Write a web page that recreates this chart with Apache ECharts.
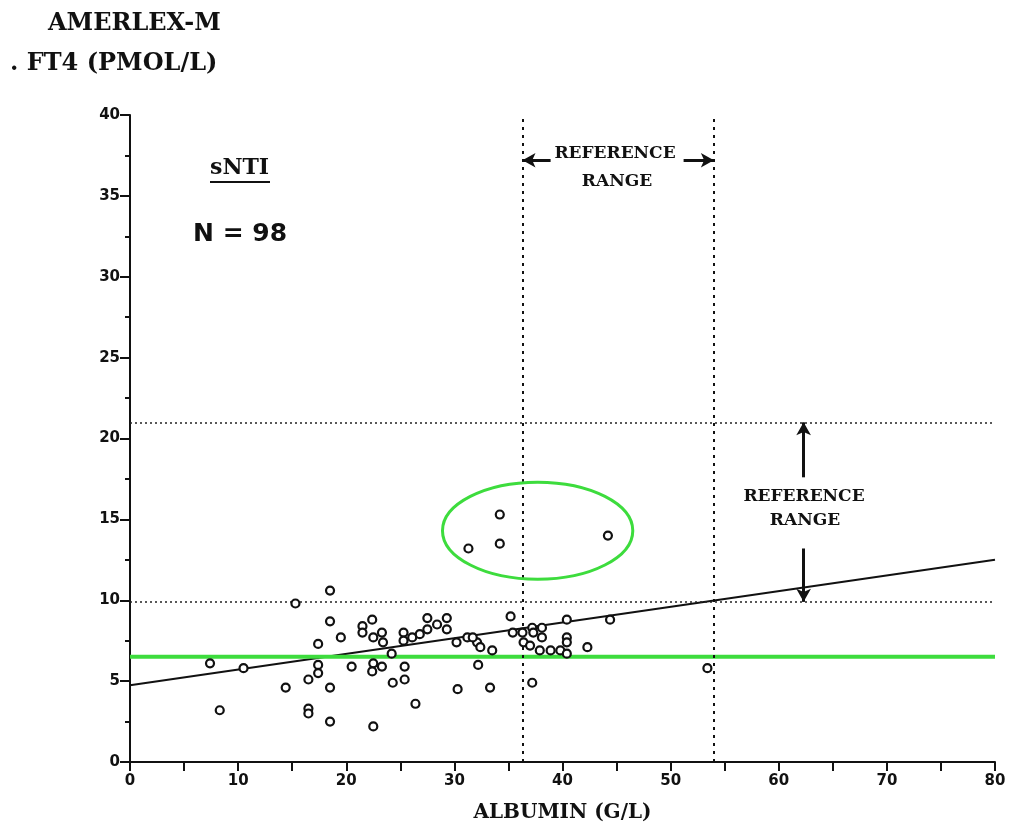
<!DOCTYPE html>
<html>
<head>
<meta charset="utf-8">
<script src="https://cdn.jsdelivr.net/npm/echarts@6/dist/echarts.min.js"></script>
<style>
html,body{margin:0;padding:0;background:#fff;}
#chart{width:1011px;height:838px;}
</style>
</head>
<body>
<div id="chart"></div>
<script>
// ---- data ----
const albumin = [7.4,8.3,10.5,14.4,15.3,16.5,16.5,16.5,17.4,17.4,17.4,18.5,18.5,18.5,18.5,19.5,20.5,21.5,21.5,22.4,
  22.5,22.5,22.4,22.5,23.3,23.4,23.3,24.2,24.3,25.3,25.3,25.4,25.4,26.1,26.4,26.8,27.5,27.5,28.4,29.3,
  29.3,30.2,30.3,31.2,32.1,32.4,32.2,33.5,33.3,35.2,31.7,35.4,36.3,36.4,37.2,37.3,38.1,38.1,37.0,37.9,
  38.9,39.8,40.4,40.4,40.4,40.4,42.3,44.4,37.2,53.4,34.2,31.3,34.2,44.2];
const ft4 = [6.1,3.2,5.8,4.6,9.8,5.1,3.3,3.0,7.3,6.0,5.5,10.6,8.7,4.6,2.5,7.7,5.9,8.4,8.0,8.8,
  7.7,6.1,5.6,2.2,8.0,7.4,5.9,6.7,4.9,8.0,7.5,5.9,5.1,7.7,3.6,7.9,8.9,8.2,8.5,8.9,
  8.2,7.4,4.5,7.7,7.4,7.1,6.0,6.9,4.6,9.0,7.7,8.0,8.0,7.4,8.3,8.0,8.3,7.7,7.2,6.9,
  6.9,6.9,8.8,7.7,7.4,6.7,7.1,8.8,4.9,5.8,15.3,13.2,13.5,14.0];
const xTicks = [0,10,20,30,40,50,60,70,80];
const yTicks = [0,5,10,15,20,25,30,35,40];
const refAlbumin = [36.3, 54.0];      // vertical reference range bounds
const refFt4 = [9.9, 21.0];           // horizontal reference range bounds
const regX = [0, 80];
const regY = [4.75, 12.5];            // regression line
const greenLineY = 6.5;               // green horizontal line
const highlight = [37.7, 14.3, 8.8, 3.0]; // ellipse: cx, cy, rx, ry (data units)
const arrowYTop = 37.2;
const arrowXRight = 62.3;

const serif = '"DejaVu Serif", "Liberation Serif", serif';
const sans = '"DejaVu Sans", "Liberation Sans", sans-serif';

const chart = echarts.init(document.getElementById('chart'), null, {renderer:'canvas'});

const points = albumin.map((a,i)=>[a, ft4[i]]);
const dashStyle = {color:'#111', width:2, type:[3,5]};
const dotStyle = {color:'#222', width:1.6, type:[2,3]};

const option = {
  backgroundColor:'#fff',
  animation:false,
  grid:{left:130, right:16, top:115, bottom:76},
  xAxis:{
    type:'value', min:xTicks[0], max:xTicks[xTicks.length-1], interval:10,
    name:'ALBUMIN (G/L)', nameLocation:'middle', nameGap:41,
    nameTextStyle:{fontFamily:serif, fontWeight:'bold', fontSize:20, color:'#111'},
    axisLine:{show:true, lineStyle:{color:'#111', width:2}},
    axisTick:{show:true, length:9, lineStyle:{color:'#111', width:2}},
    minorTick:{show:true, splitNumber:2, length:9, lineStyle:{color:'#111', width:2}},
    axisLabel:{margin:12, fontFamily:sans, fontWeight:'bold', fontSize:15, color:'#111'},
    splitLine:{show:false}
  },
  yAxis:{
    type:'value', min:yTicks[0], max:yTicks[yTicks.length-1], interval:5,
    axisLine:{show:true, lineStyle:{color:'#111', width:2}},
    axisTick:{show:true, length:10, lineStyle:{color:'#111', width:2}},
    minorTick:{show:true, splitNumber:2, length:5, lineStyle:{color:'#111', width:2}},
    axisLabel:{margin:10, fontFamily:sans, fontWeight:'bold', fontSize:15, color:'#111'},
    splitLine:{show:false}
  },
  series:[
    {
      type:'line', data:[[regX[0],regY[0]],[regX[1],regY[1]]], symbol:'none',
      lineStyle:{color:'#111', width:2}, z:3,
      markLine:{
        silent:true, symbol:['none','none'], label:{show:false},
        data:[
          [{coord:[refAlbumin[0],0], lineStyle:dashStyle},{coord:[refAlbumin[0],40]}],
          [{coord:[refAlbumin[1],0], lineStyle:dashStyle},{coord:[refAlbumin[1],40]}],
          [{coord:[0,refFt4[1]], lineStyle:dotStyle},{coord:[80,refFt4[1]]}],
          [{coord:[0,refFt4[0]], lineStyle:dotStyle},{coord:[80,refFt4[0]]}]
        ]
      }
    },
    {
      type:'line', data:[[regX[0],greenLineY],[regX[1],greenLineY]], symbol:'none',
      lineStyle:{color:'#3ddc3d', width:4}, z:4
    },
    {
      type:'line', data:[], symbol:'none',
      markLine:{
        silent:true, symbol:['none','arrow'], symbolSize:[11,13], label:{show:false},
        lineStyle:{color:'#111', width:3, type:'solid'},
        data:[
          [{coord:[38.9, arrowYTop]},{coord:[refAlbumin[0], arrowYTop]}],
          [{coord:[51.2, arrowYTop]},{coord:[refAlbumin[1], arrowYTop]}],
          [{coord:[arrowXRight, 17.6]},{coord:[arrowXRight, refFt4[1]]}],
          [{coord:[arrowXRight, 13.2]},{coord:[arrowXRight, refFt4[0]]}]
        ]
      }
    },
    {
      type:'custom', data:[highlight], z:5,
      renderItem:function(params, api){
        const c = api.coord([api.value(0), api.value(1)]);
        const s = api.size([api.value(2), api.value(3)]);
        return {type:'ellipse', shape:{cx:c[0], cy:c[1], rx:s[0], ry:s[1]},
          style:{fill:'none', stroke:'#3ddc3d', lineWidth:3}};
      }
    },
    {
      type:'scatter', data:points, symbol:'circle', symbolSize:8, z:6,
      itemStyle:{color:'#fff', borderColor:'#111', borderWidth:2.2, opacity:1}
    }
  ],
  graphic:[
    {type:'text', left:48, top:12, style:{text:'AMERLEX-M', font:'bold 24px '+serif, fill:'#111'}},
    {type:'text', left:10, top:52, style:{text:'. FT4 (PMOL/L)', font:'bold 24px '+serif, fill:'#111'}},
    {type:'text', left:210, top:157, style:{text:'sNTI', font:'bold 22px '+serif, fill:'#111'}},
    {type:'line', shape:{x1:210, y1:182, x2:270, y2:182}, style:{stroke:'#111', lineWidth:2}},
    {type:'text', left:193, top:222, style:{text:'N = 98', font:'bold 25px '+sans, fill:'#111'}},
    {type:'text', x:615, y:154, style:{text:'REFERENCE', font:'bold 17px '+serif, fill:'#111', align:'center', verticalAlign:'middle'}},
    {type:'text', x:617, y:182, style:{text:'RANGE', font:'bold 17px '+serif, fill:'#111', align:'center', verticalAlign:'middle'}},
    {type:'text', x:804, y:497, style:{text:'REFERENCE', font:'bold 17px '+serif, fill:'#111', align:'center', verticalAlign:'middle'}},
    {type:'text', x:805, y:521, style:{text:'RANGE', font:'bold 17px '+serif, fill:'#111', align:'center', verticalAlign:'middle'}}
  ]
};
chart.setOption(option);
</script>
</body>
</html>
